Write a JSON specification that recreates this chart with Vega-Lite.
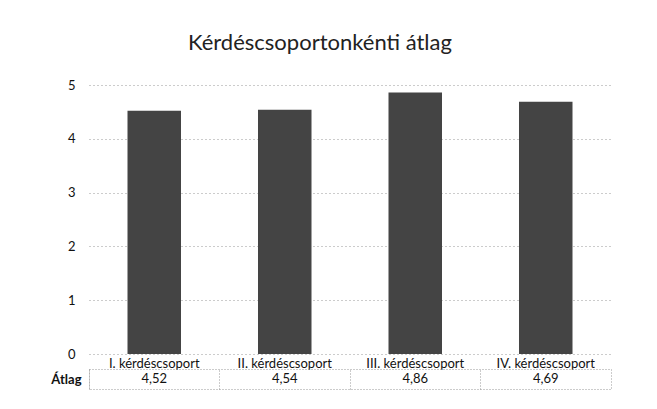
{
  "$schema": "https://vega.github.io/schema/vega-lite/v6.json",
  "background": "white",
  "padding": {"left": 50, "top": 32, "right": 5, "bottom": 5},
  "config": {
    "font": "Lato",
    "locale": {"number": {"decimal": ",", "thousands": " ", "grouping": [3], "currency": ["", ""]}},
    "view": {"stroke": null}
  },
  "title": {"text": "Kérdéscsoportonkénti átlag", "font": "Lato", "fontSize": 22, "fontWeight": "normal", "color": "#222", "offset": 24, "anchor": "middle", "dx": -11},
  "bounds": "flush",
  "spacing": 15,
  "resolve": {"scale": {"x": "independent"}},
  "datasets": {
    "atlag": [
      {"kategoria": "I. kérdéscsoport", "sor": "Átlag", "atlag": 4.52},
      {"kategoria": "II. kérdéscsoport", "sor": "Átlag", "atlag": 4.54},
      {"kategoria": "III. kérdéscsoport", "sor": "Átlag", "atlag": 4.86},
      {"kategoria": "IV. kérdéscsoport", "sor": "Átlag", "atlag": 4.69}
    ]
  },
  "vconcat": [
    {
      "width": 522,
      "height": 269,
      "data": {"name": "atlag"},
      "mark": {"type": "bar", "color": "#444444"},
      "encoding": {
        "x": {"field": "kategoria", "type": "nominal", "sort": null,
          "scale": {"paddingInner": 0.59, "paddingOuter": 0.295},
          "axis": {"title": null, "labelAngle": 0, "ticks": false, "domain": false, "labelFontSize": 13, "labelColor": "#111", "labelPadding": 3}},
        "y": {"field": "atlag", "type": "quantitative", "scale": {"domain": [0, 5]},
          "axis": {"title": null, "values": [0, 1, 2, 3, 4, 5], "ticks": false, "domain": false, "labelFontSize": 13, "labelColor": "#111", "labelPadding": 14, "gridDash": [1, 3], "gridColor": "#999"}}
      }
    },
    {
      "width": 522,
      "height": 20,
      "data": {"name": "atlag"},
      "view": {"stroke": "#999", "strokeDash": [1, 2]},
      "mark": {"type": "text", "fontSize": 13, "color": "#111"},
      "encoding": {
        "x": {"field": "kategoria", "type": "nominal", "sort": null,
          "scale": {"type": "band", "paddingInner": 0, "paddingOuter": 0},
          "axis": {"title": null, "labels": false, "ticks": false, "domain": false, "grid": true, "bandPosition": 0, "gridDash": [1, 2], "gridColor": "#999"}},
        "y": {"field": "sor", "type": "nominal",
          "axis": {"title": null, "ticks": false, "domain": false, "labelFontSize": 13, "labelFontWeight": "bold", "labelColor": "#111", "labelPadding": 8}},
        "text": {"field": "atlag", "type": "quantitative", "format": ".2f"}
      }
    }
  ]
}
